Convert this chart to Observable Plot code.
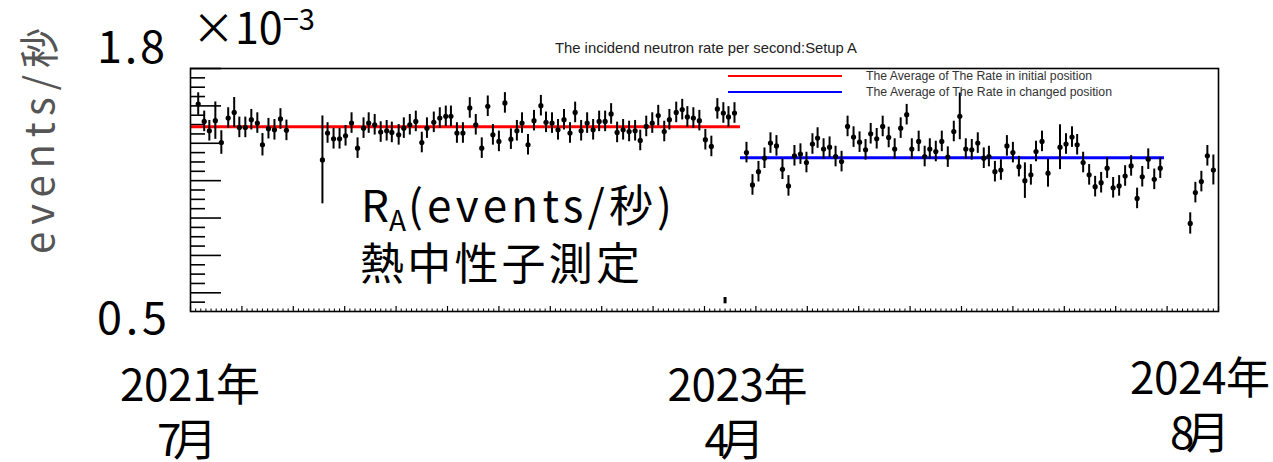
<!DOCTYPE html>
<html><head><meta charset="utf-8">
<script src="https://cdn.jsdelivr.net/npm/d3@7"></script>
<script src="https://cdn.jsdelivr.net/npm/@observablehq/plot@0.6"></script>
<style>
html,body{margin:0;padding:0;background:#fff;}
#chart svg{display:block;}
</style></head><body><div id="chart"></div><script>
// ---- data (x = days since 2021-07-01, y = rate ×10^-3 events/s) ----
const initialDays = [9,16,22,29,36,44,51,57,64,71,78,84,91,98,105,112,
  154,160,167,174,181,188,195,202,208,215,222,229,235,243,249,256,263,270,276,284,291,298,304,311,318,
  326,333,340,347,353,360,367,374,381,387,394,401,409,415,422,429,436,443,449,456,463,470,477,484,491,498,505,512,519,525,532,539,546,553,559,567,574,580,587,594,601,608,615,622,628,635];
const initialRate = [1.610,1.517,1.467,1.521,1.404,1.535,1.565,1.485,1.485,1.526,1.508,1.392,1.478,1.472,1.530,1.469,
  1.311,1.455,1.424,1.424,1.440,1.508,1.374,1.481,1.508,1.499,1.460,1.467,1.458,1.445,1.481,1.499,1.517,1.404,1.481,1.512,1.535,1.544,1.544,1.455,1.455,
  1.589,1.499,1.374,1.598,1.445,1.410,1.616,1.422,1.467,1.508,1.392,1.521,1.601,1.512,1.508,1.472,1.526,1.455,1.565,1.467,1.508,1.472,1.517,1.517,1.557,1.458,1.472,1.463,1.467,1.415,1.490,1.508,1.548,1.463,1.526,1.565,1.580,1.541,1.535,1.521,1.419,1.383,1.584,1.562,1.541,1.562];
const initialErr = [0.060,0.055,0.055,0.100,0.063,0.055,0.080,0.055,0.055,0.055,0.055,0.060,0.055,0.055,0.055,0.055,
  0.235,0.055,0.055,0.055,0.055,0.055,0.055,0.055,0.055,0.055,0.055,0.055,0.055,0.055,0.055,0.055,0.055,0.055,0.055,0.055,0.055,0.055,0.055,0.055,0.055,
  0.055,0.055,0.055,0.055,0.055,0.055,0.055,0.055,0.055,0.055,0.055,0.055,0.055,0.055,0.055,0.055,0.055,0.055,0.055,0.055,0.055,0.055,0.055,0.055,0.055,0.055,0.055,0.055,0.055,0.055,0.055,0.055,0.055,0.055,0.055,0.055,0.055,0.055,0.055,0.055,0.055,0.055,0.055,0.055,0.055,0.055];
const changedDays = [649,656,663,670,677,684,691,698,705,712,719,726,732,739,746,753,760,767,774,781,
  788,794,801,808,815,822,829,836,842,850,857,863,870,877,884,891,898,905,912,919,
  926,932,939,946,953,960,967,974,981,987,994,1001,1015,1022,1029,1035,1042,1049,1056,1063,
  1070,1077,1084,1091,1098,1105,1111,1118,1125,1132,1167,1173,1180,1187,1194];
const changedRate = [1.350,1.177,1.248,1.320,1.401,1.386,1.261,1.172,1.333,1.342,
  1.297,1.396,1.428,1.369,1.379,1.329,1.302,1.490,1.433,1.406,
  1.365,1.451,1.424,1.490,1.431,1.369,1.481,1.553,1.369,1.410,
  1.329,1.369,1.356,1.410,1.326,1.463,1.544,1.369,1.365,1.401,
  1.320,1.329,1.248,1.257,1.386,1.350,1.275,1.200,1.231,1.356,
  1.410,1.240,1.379,1.396,1.433,1.392,1.297,1.231,1.168,1.189,
  1.267,1.162,1.172,1.225,1.279,1.105,1.221,1.315,1.207,1.267,
  0.971,1.136,1.195,1.333,1.257];
const changedErr = [0.055,0.055,0.055,0.055,0.055,0.055,0.055,0.055,0.055,0.055,
  0.055,0.055,0.055,0.055,0.055,0.055,0.055,0.055,0.055,0.055,
  0.055,0.055,0.055,0.055,0.055,0.055,0.055,0.055,0.055,0.055,
  0.055,0.055,0.055,0.055,0.055,0.055,0.125,0.055,0.055,0.055,
  0.055,0.055,0.055,0.055,0.055,0.055,0.055,0.095,0.055,0.055,
  0.055,0.075,0.120,0.055,0.055,0.055,0.055,0.055,0.055,0.055,
  0.055,0.055,0.055,0.055,0.055,0.055,0.055,0.055,0.055,0.055,
  0.057,0.055,0.055,0.055,0.080];
const strayDay = [624];
const strayRate = [0.558];
const strayErr = [0.017];
const avgInitial = 1.488;
const avgChanged = 1.322;
const fitSpans = [[0, 642], [642, 1137]];
const xDomain = [0, 1200];
const yDomain = [0.5, 1.8];
const yMajorTicks = [0.6, 0.8, 1.0, 1.2, 1.4, 1.6, 1.8];
const yMinorTicks = [0.55,0.65,0.7,0.75,0.85,0.9,0.95,1.05,1.1,1.15,1.25,1.3,1.35,1.45,1.5,1.55,1.65,1.7,1.75];
const xMajorStep = 60, xMinorStep = 6;
const title = "The incidend neutron rate per second:Setup A";
const legendLabels = ["The Average of The Rate in initial position", "The Average of The Rate in changed position"];
const legendColors = ["#ff0000", "#0000ff"];
const yLabel = "events/秒";
const dateLabels = [["2021年", "7月"], ["2023年", "4月"], ["2024年", "8月"]];
const dateLabelDays = [0, 639, 1179];
const noteLine2 = "熱中性子測定";

// ---- build ----
const rows = (d, r, e, g) => d.map((v, i) => ({day: v, rate: r[i], err: e[i], group: g}));
const points = rows(initialDays, initialRate, initialErr, "initial").concat(rows(changedDays, changedRate, changedErr, "changed"));
const stray = rows(strayDay, strayRate, strayErr, "stray");
const fits = [
  {x1: fitSpans[0][0], x2: fitSpans[0][1], y: avgInitial, c: legendColors[0]},
  {x1: fitSpans[1][0], x2: fitSpans[1][1], y: avgChanged, c: legendColors[1]}
];
const xMajor = d3.range(xDomain[0], xDomain[1] + 1, xMajorStep);
const xMinor = d3.range(xDomain[0], xDomain[1] + 1, xMinorStep).filter(d => d % xMajorStep !== 0);

const W = 1273, H = 462;
const plot = Plot.plot({
  width: W, height: H,
  marginLeft: 190, marginRight: 55, marginTop: 68, marginBottom: 151,
  style: {background: "white", overflow: "visible"},
  x: {domain: xDomain, axis: null},
  y: {domain: yDomain, axis: null},
  marks: [
    Plot.axisY(yMinorTicks, {anchor: "left", tickSize: 15, dx: 15, tickFormat: () => "", label: null, strokeWidth: 1.6}),
    Plot.axisY(yMajorTicks, {anchor: "left", tickSize: 31, dx: 31, tickFormat: () => "", label: null, strokeWidth: 1.6}),
    Plot.axisX(xMinor, {anchor: "bottom", tickSize: 2.5, dy: -2.5, tickFormat: () => "", label: null, strokeWidth: 1}),
    Plot.axisX(xMajor, {anchor: "bottom", tickSize: 5, dy: -5, tickFormat: () => "", label: null, strokeWidth: 1.2}),
    Plot.ruleY(fits, {x1: "x1", x2: "x2", y: "y", stroke: "c", strokeWidth: 3}),
    Plot.ruleX(points, {x: "day", y1: d => d.rate - d.err, y2: d => d.rate + d.err, stroke: "black", strokeWidth: 2}),
    Plot.dot(points, {x: "day", y: "rate", r: 2.6, fill: "black", stroke: "none"}),
    Plot.ruleX(stray, {x: "day", y1: d => d.rate - d.err, y2: d => d.rate + d.err, stroke: "black", strokeWidth: 3}),
    Plot.frame({stroke: "black", strokeWidth: 1.6})
  ]
});
document.getElementById("chart").appendChild(plot);

// ---- annotations ----
const svg = d3.select(plot);
const xs = plot.scale("x"), ys = plot.scale("y");
const fLeft = xs.apply(xDomain[0]), fRight = xs.apply(xDomain[1]);
const fTop = ys.apply(yDomain[1]), fBottom = ys.apply(yDomain[0]);
const jp = "'Noto Sans CJK JP', sans-serif";
const sans = "'Liberation Sans', Arial, sans-serif";

// ROOT title
svg.append("text").attr("x", (fLeft + fRight) / 2 + 2).attr("y", fTop - 15)
  .attr("text-anchor", "middle").attr("font-family", sans).attr("font-size", 14.5).attr("fill", "#222")
  .attr("textLength", 302).attr("lengthAdjust", "spacingAndGlyphs").text(title);

// legend
const legendWidths = [226, 246];
legendLabels.forEach((lab, i) => {
  const yy = fTop + 8 + i * 16;
  svg.append("line").attr("x1", fLeft + 538).attr("x2", fLeft + 652).attr("y1", yy).attr("y2", yy)
    .attr("stroke", legendColors[i]).attr("stroke-width", 2);
  svg.append("text").attr("x", fLeft + 676).attr("y", yy).attr("dy", "0.35em").attr("text-anchor", "start")
    .attr("font-family", sans).attr("font-size", 12).attr("fill", "#333")
    .attr("textLength", legendWidths[i]).attr("lengthAdjust", "spacingAndGlyphs").text(lab);
});

// big overlay labels
function big(txt, x, y, size, len, anchor = "start") {
  const t = svg.append("text").attr("x", x).attr("y", y).attr("font-family", jp).attr("font-size", size)
    .attr("fill", "black").attr("text-anchor", anchor).text(txt);
  if (len) t.attr("textLength", len).attr("lengthAdjust", "spacing");
  return t;
}
big(yMajorTicks[yMajorTicks.length - 1].toFixed(1), 97, 63, 45, 68);
big(yDomain[0].toFixed(1), 97, 334, 45, 70);
// ×10^-3
const mult = svg.append("text").attr("x", 192).attr("y", 44).attr("text-anchor", "start")
  .attr("font-family", jp).attr("font-size", 43).attr("fill", "black");
mult.append("tspan").text("×10");
mult.append("tspan").attr("font-size", 29).attr("dy", -14).text("−3");

// y label
svg.append("text").attr("transform", "translate(54,141) rotate(-90)")
  .attr("text-anchor", "middle").attr("font-family", jp).attr("font-size", 40).attr("fill", "#555")
  .attr("textLength", 226).attr("lengthAdjust", "spacing").text(yLabel);

// R_A(events/秒) and 熱中性子測定
const note = svg.append("text").attr("x", 361).attr("y", 222).attr("text-anchor", "start")
  .attr("font-family", jp).attr("font-size", 44).attr("fill", "black");
note.append("tspan").text("R");
note.append("tspan").attr("font-size", 28).attr("dy", 9).text("A");
note.append("tspan").attr("dy", -9).attr("dx", 2)
  .attr("textLength", 264).attr("lengthAdjust", "spacing").text("(" + yLabel + ")");
big(noteLine2, 360, 280, 44, 280);

// date labels under x axis
dateLabels.forEach((pair, i) => {
  const cx = xs.apply(dateLabelDays[i]);
  big(pair[0], cx, i === 2 ? 394 : 401, 44, 140, "middle");
  big(pair[1], cx + (i === 2 ? 0 : -3), i === 2 ? 449 : 456, 44, 60, "middle");
});
</script></body></html>
